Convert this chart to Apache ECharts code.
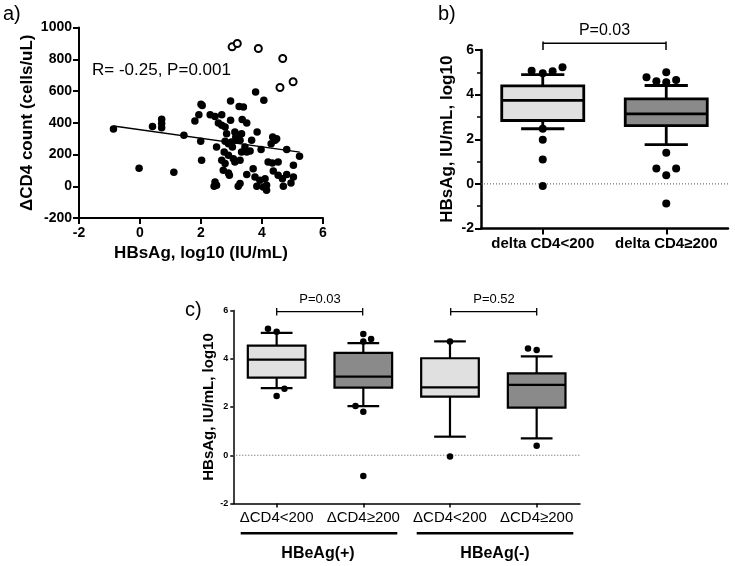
<!DOCTYPE html>
<html>
<head>
<meta charset="utf-8">
<script src="https://cdn.jsdelivr.net/npm/echarts@6/dist/echarts.min.js"></script>
<style>html,body{margin:0;padding:0;background:#fff;}#chart{width:735px;height:566px;}</style>
</head>
<body>
<div id="chart"></div>
<script>
// ---------- DATA ----------
// Panel a: scatter of ΔCD4 count vs HBsAg (log10)
const aFilledPoints = [
  [-0.87,360],[-0.03,113],[0.41,376],[0.71,422],[0.71,395],[0.71,368],[1.11,88],[1.44,321],
  [1.8,411],[1.93,451],[2.0,516],[2.04,509],[1.99,283],[2.02,164],
  [2.3,451],[2.46,440],[2.68,451],[2.57,398],[2.68,384],[2.79,373],[2.97,415],[2.97,537],
  [2.51,247],[2.46,27],[2.51,6],[2.43,0],
  [2.73,101],[2.9,84],[2.68,164],[2.79,143],[2.76,216],[2.9,195],[2.79,283],[2.9,268],[3.0,279],[2.84,331],
  [3.06,174],[3.11,153],[3.28,164],[3.11,342],[3.22,321],[3.33,331],[3.17,289],[3.28,289],
  [3.25,503],[3.39,499],[3.35,420],[3.5,398],[3.33,216],[3.5,216],[3.61,222],[3.66,289],
  [3.22,0],[3.28,17],[3.5,74],[3.71,111],[3.77,58],[3.93,38],[4.1,48],[3.83,0],[4.04,-4],[4.15,6],[4.15,-25],
  [3.79,593],[4.06,541],[3.84,342],[3.97,231],
  [4.35,310],[4.43,289],[4.3,268],[4.48,300],[4.2,153],[4.34,147],[4.53,153],[4.37,96],[4.53,69],[4.67,48],
  [4.81,74],[5.03,58],[4.7,0],[4.81,231],[5.23,189],[5.03,132],[4.95,21],[2.93,69],
  [3.03,248],[3.44,248],[3.14,311]
];
const aOpenPoints = [[3.02,878],[3.19,899],[3.88,868],[4.68,805],[4.59,622],[5.02,658]];
const aFitLine = [[-0.87,380],[5.24,215]];
const aXTicks = [-2, 0, 2, 4, 6];
const aYTicks = [-200, 0, 200, 400, 600, 800, 1000];
const aAnnotation = 'R= -0.25, P=0.001';

// Panel b: box plots
const bCategories = ['delta CD4<200', 'delta CD4\u2265200'];
// [index, lower whisker, Q1, median, Q3, upper whisker]
const bBoxes = [
  [0, 2.47, 2.84, 3.74, 4.39, 4.90],
  [1, 1.76, 2.61, 3.14, 3.81, 4.41]
];
const bOutliers = [
  [-0.09,5.07],[0,4.96],[0.08,5.05],[0.16,5.23],[0,2.47],[0,1.98],[0,1.09],[0,-0.09],
  [0.84,4.78],[0.92,4.60],[1,5.00],[1,4.55],[1.08,4.66],[1,1.40],[0.92,0.69],[1.08,0.69],[1,0.39],[1,-0.88]
];
const bPValue = 'P=0.03';

// Panel c: box plots by HBeAg status
const cCategories = ['\u0394CD4<200', '\u0394CD4\u2265200', '\u0394CD4<200', '\u0394CD4\u2265200'];
const cGroups = ['HBeAg(+)', 'HBeAg(-)'];
const cBoxes = [
  [0, 2.78, 3.22, 3.96, 4.54, 5.07],
  [1, 2.04, 2.80, 3.26, 4.24, 4.65],
  [2, 0.77, 2.43, 2.81, 4.02, 4.72],
  [3, 0.70, 1.97, 2.92, 3.39, 4.10]
];
const cOutliers = [
  [-0.10,5.24],[0,5.12],[0,2.46],[0.09,2.76],
  [1,5.03],[1.09,4.82],[1,4.72],[0.91,2.04],[1,1.80],[1,-0.86],
  [2,4.72],[2,-0.05],
  [2.9,4.43],[3,4.36],[3,0.39]
];
const cPValues = ['P=0.03', 'P=0.52'];
const logTicks = [-2, 0, 2, 4, 6];

// ---------- STYLE ----------
const FONT = 'Arial, "Liberation Sans", sans-serif';
const LIGHT = '#e0e0e0';
const DARK = '#8a8a8a';
const boxColors2 = [LIGHT, DARK];
const boxColors4 = [LIGHT, DARK, LIGHT, DARK];

function boxRenderer(boxRatio, capRatio, colors, lw) {
  return function (params, api) {
    const x = api.value(0);
    const lo = api.coord([x, api.value(1)]);
    const q1 = api.coord([x, api.value(2)]);
    const med = api.coord([x, api.value(3)]);
    const q3 = api.coord([x, api.value(4)]);
    const hi = api.coord([x, api.value(5)]);
    const bw = api.size([boxRatio, 0])[0];
    const cw = api.size([capRatio, 0])[0];
    const cx = lo[0];
    const ls = { stroke: '#000', lineWidth: lw, fill: null };
    return {
      type: 'group',
      children: [
        { type: 'line', shape: { x1: cx, y1: hi[1], x2: cx, y2: q3[1] }, style: ls },
        { type: 'line', shape: { x1: cx, y1: q1[1], x2: cx, y2: lo[1] }, style: ls },
        { type: 'line', shape: { x1: cx - cw / 2, y1: hi[1], x2: cx + cw / 2, y2: hi[1] }, style: ls },
        { type: 'line', shape: { x1: cx - cw / 2, y1: lo[1], x2: cx + cw / 2, y2: lo[1] }, style: ls },
        { type: 'rect', shape: { x: cx - bw / 2, y: q3[1], width: bw, height: q1[1] - q3[1] },
          style: { fill: colors[params.dataIndex], stroke: '#000', lineWidth: lw } },
        { type: 'line', shape: { x1: cx - bw / 2, y1: med[1], x2: cx + bw / 2, y2: med[1] }, style: ls }
      ]
    };
  };
}

function zeroLineSeries(xIdx, yIdx, xMin, xMax) {
  return {
    type: 'line', xAxisIndex: xIdx, yAxisIndex: yIdx, data: [[xMin, 0], [xMax, 0]],
    symbol: 'none', silent: true, z: 1,
    lineStyle: { color: '#555', type: [1, 2], width: 1 }
  };
}

const chart = echarts.init(document.getElementById('chart'), null, { renderer: 'canvas' });

const option = {
  backgroundColor: '#fff',
  animation: false,
  textStyle: { fontFamily: FONT },
  grid: [
    { left: 79, top: 27.5, width: 244, height: 190.5 },
    { left: 481, top: 50, width: 247, height: 178.5 },
    { left: 233.3, top: 310.5, width: 346.7, height: 193 }
  ],
  xAxis: [
    { // a
      type: 'value', gridIndex: 0, min: aXTicks[0], max: aXTicks[aXTicks.length - 1], interval: 2,
      name: 'HBsAg, log10 (IU/mL)', nameLocation: 'middle', nameGap: 27,
      nameTextStyle: { fontFamily: FONT, fontWeight: 'bold', fontSize: 17, color: '#000' },
      axisLine: { show: true, onZero: false, lineStyle: { color: '#000', width: 2 } },
      axisTick: { show: true, length: 6, lineStyle: { color: '#000', width: 2 } },
      axisLabel: { fontFamily: FONT, fontWeight: 'bold', fontSize: 14, color: '#000', margin: 8 },
      splitLine: { show: false }
    },
    { // b categories
      type: 'category', gridIndex: 1, data: bCategories, boundaryGap: true,
      axisLine: { show: true, onZero: false, lineStyle: { color: '#000', width: 2.5 } },
      axisTick: { show: true, alignWithLabel: true, interval: 0, length: 6, lineStyle: { color: '#000', width: 2 } },
      axisLabel: { interval: 0, fontFamily: FONT, fontWeight: 'bold', fontSize: 15, color: '#000', margin: 8 },
      splitLine: { show: false }
    },
    { // b hidden value
      type: 'value', gridIndex: 1, min: -0.5, max: 1.5, show: false,
      axisLine: { onZero: false }
    },
    { // c categories
      type: 'category', gridIndex: 2, data: cCategories.map((c, i) => String(i)), boundaryGap: true,
      axisLine: { show: true, onZero: false, lineStyle: { color: '#000', width: 1.5 } },
      axisTick: { show: true, alignWithLabel: true, interval: 0, length: 4, lineStyle: { color: '#000', width: 1.5 } },
      axisLabel: { interval: 0, fontFamily: FONT, fontSize: 15, color: '#000', margin: 7,
        formatter: (v, i) => cCategories[i] },
      splitLine: { show: false }
    },
    { // c hidden value
      type: 'value', gridIndex: 2, min: -0.5, max: 3.5, show: false,
      axisLine: { onZero: false }
    }
  ],
  yAxis: [
    { // a
      type: 'value', gridIndex: 0, min: aYTicks[0], max: aYTicks[aYTicks.length - 1], interval: 200,
      name: '\u0394CD4 count (cells/uL)', nameLocation: 'middle', nameGap: 43,
      nameTextStyle: { fontFamily: FONT, fontWeight: 'bold', fontSize: 17, color: '#000' },
      axisLine: { show: true, onZero: false, lineStyle: { color: '#000', width: 2 } },
      axisTick: { show: true, length: 6, lineStyle: { color: '#000', width: 2 } },
      axisLabel: { fontFamily: FONT, fontWeight: 'bold', fontSize: 14, color: '#000', margin: 7,
        formatter: v => String(v) },
      splitLine: { show: false }
    },
    { // b
      type: 'value', gridIndex: 1, min: logTicks[0], max: logTicks[logTicks.length - 1], interval: 2,
      name: 'HBsAg, IU/mL, log10', nameLocation: 'middle', nameGap: 25,
      nameTextStyle: { fontFamily: FONT, fontWeight: 'bold', fontSize: 17, color: '#000' },
      axisLine: { show: true, onZero: false, lineStyle: { color: '#000', width: 2.5 } },
      axisTick: { show: true, length: 6, lineStyle: { color: '#000', width: 2 } },
      minorTick: { show: true, splitNumber: 2, length: 4, lineStyle: { color: '#000', width: 1.5 } },
      axisLabel: { fontFamily: FONT, fontWeight: 'bold', fontSize: 14, color: '#000', margin: 7 },
      splitLine: { show: false }
    },
    { // c
      type: 'value', gridIndex: 2, min: logTicks[0], max: logTicks[logTicks.length - 1], interval: 2,
      name: 'HBsAg, IU/mL, log10', nameLocation: 'middle', nameGap: 16,
      nameTextStyle: { fontFamily: FONT, fontWeight: 'bold', fontSize: 15, color: '#000' },
      axisLine: { show: true, onZero: false, lineStyle: { color: '#000', width: 1.5 } },
      axisTick: { show: true, length: 3, lineStyle: { color: '#000', width: 1.5 } },
      axisLabel: { fontFamily: FONT, fontWeight: 'bold', fontSize: 9, color: '#000', margin: 5 },
      splitLine: { show: false }
    }
  ],
  series: [
    // ---- panel a ----
    {
      type: 'scatter', xAxisIndex: 0, yAxisIndex: 0, data: aFilledPoints,
      symbol: 'circle', symbolSize: 7.5, itemStyle: { color: '#000', opacity: 1 }, z: 3
    },
    {
      type: 'scatter', xAxisIndex: 0, yAxisIndex: 0, data: aOpenPoints,
      symbol: 'circle', symbolSize: 7, itemStyle: { color: '#fff', borderColor: '#000', borderWidth: 2, opacity: 1 }, z: 3
    },
    {
      type: 'line', xAxisIndex: 0, yAxisIndex: 0, data: aFitLine,
      symbol: 'none', lineStyle: { color: '#000', width: 1.5 }, z: 4
    },
    // ---- panel b ----
    zeroLineSeries(2, 1, -0.5, 1.5),
    {
      type: 'custom', xAxisIndex: 2, yAxisIndex: 1, data: bBoxes,
      renderItem: boxRenderer(0.664, 0.35, boxColors2, 2.8),
      encode: { x: 0, y: [1, 2, 3, 4, 5] }, z: 2
    },
    {
      type: 'scatter', xAxisIndex: 2, yAxisIndex: 1, data: bOutliers,
      symbol: 'circle', symbolSize: 8, itemStyle: { color: '#000', opacity: 1 }, z: 5
    },
    // ---- panel c ----
    zeroLineSeries(4, 2, -0.5, 3.5),
    {
      type: 'custom', xAxisIndex: 4, yAxisIndex: 2, data: cBoxes,
      renderItem: boxRenderer(0.665, 0.366, boxColors4, 2.2),
      encode: { x: 0, y: [1, 2, 3, 4, 5] }, z: 2
    },
    {
      type: 'scatter', xAxisIndex: 4, yAxisIndex: 2, data: cOutliers,
      symbol: 'circle', symbolSize: 6.5, itemStyle: { color: '#000', opacity: 1 }, z: 5
    }
  ],
  graphic: [
    // panel labels
    { type: 'text', left: 3, top: 4, style: { text: 'a)', fontFamily: FONT, fontSize: 20, fill: '#000' } },
    { type: 'text', left: 438, top: 4, style: { text: 'b)', fontFamily: FONT, fontSize: 20, fill: '#000' } },
    { type: 'text', left: 185, top: 300, style: { text: 'c)', fontFamily: FONT, fontSize: 20, fill: '#000' } },
    // panel a annotation
    { type: 'text', left: 92, top: 62, style: { text: aAnnotation, fontFamily: FONT, fontSize: 17, fill: '#000' } },
    // panel b bracket
    { type: 'line', shape: { x1: 543, y1: 43.3, x2: 666, y2: 43.3 }, style: { stroke: '#000', lineWidth: 1.5 } },
    { type: 'line', shape: { x1: 543, y1: 41.5, x2: 543, y2: 50 }, style: { stroke: '#000', lineWidth: 1.5 } },
    { type: 'line', shape: { x1: 666, y1: 41.5, x2: 666, y2: 50 }, style: { stroke: '#000', lineWidth: 1.5 } },
    { type: 'text', x: 604.5, y: 30.7, style: { text: bPValue, fontFamily: FONT, fontSize: 16, fill: '#000', align: 'center', verticalAlign: 'middle' } },
    // panel c brackets
    { type: 'line', shape: { x1: 276.7, y1: 311.7, x2: 362.7, y2: 311.7 }, style: { stroke: '#000', lineWidth: 1.3 } },
    { type: 'line', shape: { x1: 276.7, y1: 308, x2: 276.7, y2: 315.5 }, style: { stroke: '#000', lineWidth: 1.3 } },
    { type: 'line', shape: { x1: 362.7, y1: 308, x2: 362.7, y2: 315.5 }, style: { stroke: '#000', lineWidth: 1.3 } },
    { type: 'text', x: 320, y: 299.5, style: { text: cPValues[0], fontFamily: FONT, fontSize: 13, fill: '#000', align: 'center', verticalAlign: 'middle' } },
    { type: 'line', shape: { x1: 450.7, y1: 311.7, x2: 536.7, y2: 311.7 }, style: { stroke: '#000', lineWidth: 1.3 } },
    { type: 'line', shape: { x1: 450.7, y1: 308, x2: 450.7, y2: 315.5 }, style: { stroke: '#000', lineWidth: 1.3 } },
    { type: 'line', shape: { x1: 536.7, y1: 308, x2: 536.7, y2: 315.5 }, style: { stroke: '#000', lineWidth: 1.3 } },
    { type: 'text', x: 494, y: 299.5, style: { text: cPValues[1], fontFamily: FONT, fontSize: 13, fill: '#000', align: 'center', verticalAlign: 'middle' } },
    // panel c group underlines and labels
    { type: 'line', shape: { x1: 240.7, y1: 533.3, x2: 397.3, y2: 533.3 }, style: { stroke: '#000', lineWidth: 2.5 } },
    { type: 'line', shape: { x1: 416.7, y1: 533.3, x2: 573.3, y2: 533.3 }, style: { stroke: '#000', lineWidth: 2.5 } },
    { type: 'text', x: 318, y: 553.5, style: { text: cGroups[0], fontFamily: FONT, fontSize: 16, fontWeight: 'bold', fill: '#000', align: 'center', verticalAlign: 'middle' } },
    { type: 'text', x: 495, y: 553.5, style: { text: cGroups[1], fontFamily: FONT, fontSize: 16, fontWeight: 'bold', fill: '#000', align: 'center', verticalAlign: 'middle' } }
  ]
};

chart.setOption(option);
</script>
</body>
</html>
